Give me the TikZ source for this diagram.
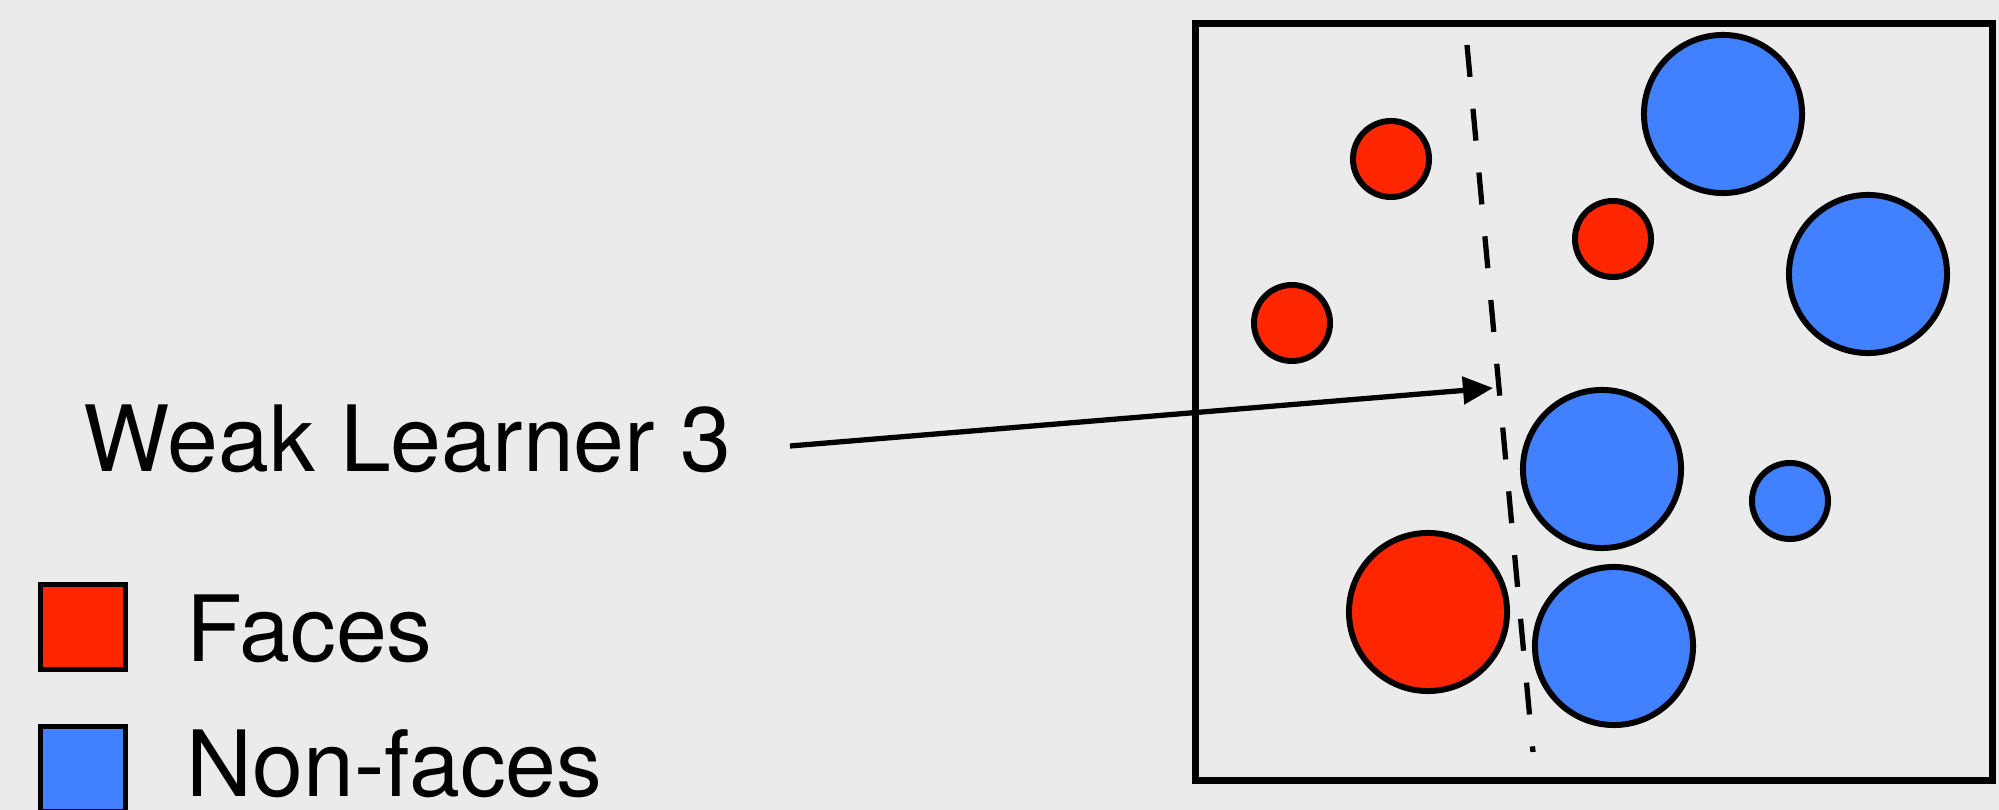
\documentclass[tikz,border=0pt]{standalone}
\usepackage{fontspec}
\setmainfont{TeX Gyre Heros}
\usetikzlibrary{arrows.meta}

\definecolor{facered}{HTML}{FF2600}
\definecolor{nonfaceblue}{HTML}{4180FF}
\definecolor{paper}{HTML}{EBEBEB}

\tikzset{
  face/.style={circle, draw=black, line width=1.7pt, fill=facered, inner sep=0pt},
  nonface/.style={circle, draw=black, line width=1.7pt, fill=nonfaceblue, inner sep=0pt},
  keybox/.style={draw=black, line width=1.6pt, minimum size=0.85cm, inner sep=0pt},
  bigtext/.style={anchor=base west, inner sep=0pt, font=\fontsize{26}{31}\selectfont}
}

\begin{document}
\begin{tikzpicture}[x=0.01cm, y=-0.01cm]
  \fill[paper] (0,0) rectangle (1999,810);
  \useasboundingbox (0,0) rectangle (1999,810);

  % sample window
  \node[draw, line width=1.9pt, minimum width=7.97cm, minimum height=7.57cm,
        inner sep=0pt, anchor=north west] (window) at (1192,20) {};

  \foreach \n/\x/\y/\d in {r1/1391/159/0.76, r2/1292/323/0.76, r3/1613/239/0.76, r4/1428/612/1.58}{
    \node[face, minimum size=\d cm] (\n) at (\x,\y) {};
  }
  \foreach \n/\x/\y/\d in {b1/1723/114/1.58, b2/1868/274/1.58, b3/1602/469/1.58, b4/1614/646/1.58, b5/1790/501/0.76}{
    \node[nonface, minimum size=\d cm] (\n) at (\x,\y) {};
  }

  % decision boundary
  \coordinate (cuttop) at (1467,45);
  \coordinate (cutbot) at (1533,752);
  \draw[line width=1.5pt, dash pattern=on 0.32cm off 0.32cm] (cuttop) -- (cutbot);

  \node[bigtext] (learner) at (83,472) {Weak Learner 3};
  \coordinate (tail) at (790,446);
  \coordinate (tip) at (1493,388);
  \draw[line width=1.5pt, -{Triangle[length=0.3cm, width=0.27cm]}] (tail) -- (tip);

  % legend
  \node[keybox, fill=facered] (keyface) at (83,627) {};
  \node[keybox, fill=nonfaceblue] (keynonface) at (83,769) {};
  \node[bigtext] (facelabel) at (186,662) {Faces};
  \node[bigtext] (nonfacelabel) at (186,797) {Non-faces};
\end{tikzpicture}
\end{document}
